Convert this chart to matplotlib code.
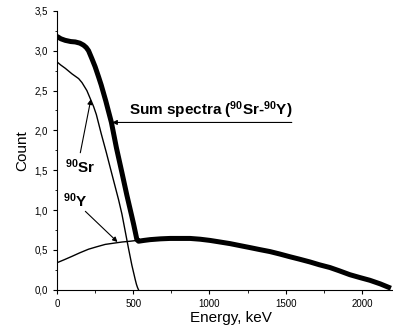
import numpy as np
import matplotlib
matplotlib.use("Agg")
import matplotlib.pyplot as plt
from matplotlib.ticker import MultipleLocator, FuncFormatter

plt.rcParams['font.family'] = ['Liberation Sans', 'DejaVu Sans']
plt.rcParams['mathtext.fontset'] = 'custom'
plt.rcParams['mathtext.rm'] = 'Liberation Sans:bold'
plt.rcParams['mathtext.bf'] = 'Liberation Sans:bold'
plt.rcParams['mathtext.default'] = 'bf'

# sum spectrum (90Sr-90Y)
sum_e = [0, 25, 54, 90, 120, 150, 174, 192, 207, 218, 229, 250, 273, 290, 305,
         320, 335, 357, 390, 426, 458, 491, 503, 513, 524,
         535, 570, 611, 680, 742, 810, 873, 940, 1004, 1070, 1135, 1200, 1266,
         1330, 1397, 1460, 1528, 1590, 1659, 1720, 1790, 1850, 1921, 1985, 2052,
         2120, 2190]
sum_c = [3.18, 3.15, 3.13, 3.115, 3.11, 3.095, 3.07, 3.04, 3.00, 2.95, 2.90,
         2.80, 2.67, 2.57, 2.47, 2.37, 2.26, 2.10, 1.78, 1.47, 1.19, 0.92, 0.82,
         0.73, 0.63, 0.61, 0.62, 0.63, 0.64, 0.645,
         0.645, 0.645, 0.635, 0.62, 0.60, 0.58, 0.555, 0.53, 0.505, 0.48, 0.45,
         0.415, 0.385, 0.35, 0.315, 0.28, 0.24, 0.19, 0.155, 0.12, 0.075, 0.02]

# 90Sr
sr_e = [0, 25, 54, 98, 142, 164, 180, 196, 218, 240, 258, 290, 324, 355, 389,
        404, 426, 447, 469, 491, 502, 513, 521, 528, 535]
sr_c = [2.86, 2.82, 2.78, 2.71, 2.65, 2.60, 2.55, 2.50, 2.40, 2.30, 2.20, 1.96,
        1.72, 1.49, 1.24, 1.13, 0.95, 0.74, 0.52, 0.31, 0.22, 0.13, 0.07, 0.03,
        0.0]

# 90Y
y_e = [0, 50, 98, 150, 207, 260, 316, 370, 426, 480, 524, 570, 611, 680]
y_c = [0.34, 0.38, 0.42, 0.465, 0.51, 0.54, 0.57, 0.585, 0.60, 0.61, 0.62,
       0.62, 0.63, 0.64]

fig = plt.figure(figsize=(3.93, 3.29), dpi=100)
ax = fig.add_axes([0.145, 0.119, 0.852, 0.848])

ax.plot(y_e, y_c, color='black', lw=1.0)
ax.plot(sr_e, sr_c, color='black', lw=1.0)
ax.plot(sum_e, sum_c, color='black', lw=3.6, solid_capstyle='butt',
        solid_joinstyle='round')

ax.set_xlim(0, 2196)
ax.set_ylim(0, 3.5)
ax.xaxis.set_major_locator(MultipleLocator(500))
ax.xaxis.set_minor_locator(MultipleLocator(250))
ax.yaxis.set_major_locator(MultipleLocator(0.5))
ax.yaxis.set_minor_locator(MultipleLocator(0.25))
ax.yaxis.set_major_formatter(FuncFormatter(lambda v, p: ('%.1f' % v).replace('.', ',')))
ax.spines['top'].set_visible(False)
ax.spines['right'].set_visible(False)
ax.tick_params(which='major', direction='out', length=3, width=0.8, labelsize=7)
ax.tick_params(which='minor', direction='out', length=1.8, width=0.6)

ax.set_xlabel("Energy, keV", fontsize=11, labelpad=1)
ax.xaxis.set_label_coords(0.52, -0.075)
ax.set_ylabel("Count", fontsize=11, labelpad=4)

arrow = dict(arrowstyle='-|>', color='black', lw=0.8, mutation_scale=7, shrinkA=0, shrinkB=0)
ax.annotate('', xy=(362, 2.10), xytext=(1540, 2.10), arrowprops=arrow)
ax.text(470, 2.12, r"Sum spectra ($^{90}$Sr-$^{90}$Y)", fontsize=11, fontweight='bold',
        ha='left', va='bottom')
ax.annotate('', xy=(222, 2.39), xytext=(153, 1.72), arrowprops=arrow)
ax.text(150, 1.54, r"$^{90}$Sr", fontsize=11, fontweight='bold', ha='center', va='center')
ax.annotate('', xy=(397, 0.60), xytext=(186, 0.985), arrowprops=arrow)
ax.text(120, 1.12, r"$^{90}$Y", fontsize=11, fontweight='bold', ha='center', va='center')

fig.savefig("out.png", dpi=100)
